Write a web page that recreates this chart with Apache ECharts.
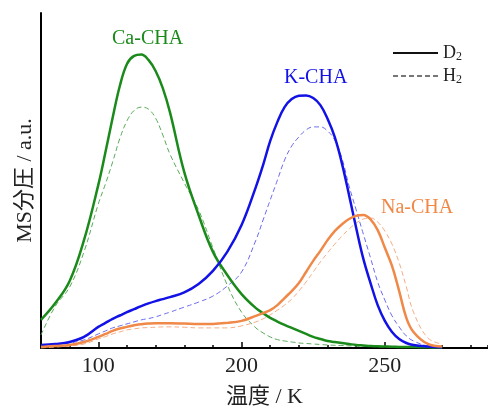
<!DOCTYPE html>
<html>
<head>
<meta charset="utf-8">
<script src="https://cdn.jsdelivr.net/npm/echarts@6/dist/echarts.min.js"></script>
<style>html,body{margin:0;padding:0;background:#fff}#c{width:488px;height:408px}</style>
</head>
<body>
<div id="c"></div>
<script>
// Internal x positions (axis units); the printed tick labels are given separately
const temps = [80,85,90,95,100,102.5,105,107.5,110,112.5,115,117.5,120,122.5,125,130,135,140,145,150,155,
  157.5,160,162.5,165,167.5,170,172.5,175,177.5,180,182.5,185,187.5,190,192.5,195,197.5,200,202.5,205,207.5,210,215,220];
const tickValues = [100,150,200];
const tickLabels = ['100','200','250'];

const caD2 = [8.4,13.4,20.0,32.2,48.7, 58.5,68.7,78.2,84.8,87.2,87.6,86.0,82.7,77.6,70.4, 52.5,39.7,28.7,21.8,16.1,11.9,
  10.4,9.0,7.9,6.9,6.0,5.1,4.2,3.3,2.7,2.1,1.8,1.5,1.2,0.9,0.75,0.6,0.5,0.45,0.4,0.3,0.3,0.3, 0.2,0.15];
const caH2 = [3.9,12.5,18.2,28.7,43.0, 49.0,55.5,62.5,67.8,70.9,71.9,71.3,68.6,63.6,57.9, 49.3,41.2,29.9,18.8,10.7,6.0,
  4.5,3.3,2.5,2.1,1.8,1.5,1.35,1.2,1.05,0.9,0.8,0.75,0.65,0.6,0.55,0.5,0.4,0.35,0.3,0.3,0.25,0.2, 0.2,0.15];
const kD2  = [0.9,1.2,1.8,3.3,6.3, 7.5,8.7,9.7,10.7,11.6,12.5,13.3,14.0,14.6,15.2, 16.6,19.1,23.0,28.7,36.7,48.1,
  54.6,61.8,67.5,71.9,74.3,75.3,75.4,74.6,72.5,68.4,63.0,55.2,45.7,35.8,26.6,19.4,12.8,8.1,4.8,2.7,1.5,0.9, 0.45,0.2];
const kH2  = [0.3,0.9,1.5,2.4,4.2, 5.1,6.0,6.6,7.2,7.8,8.4,8.8,9.3,10.0,10.7, 12.2,13.7,15.5,18.5,22.7,32.2,
  38.2,44.2,50.1,56.1,60.3,63.0,65.1,66.0,66.0,64.8,62.1,56.7,48.4,41.2,34.0,26.9,19.7,14.3,9.6,6.3,3.6,2.1, 0.6,0.25];
const naD2 = [0.3,0.6,0.9,1.8,3.3, 4.2,5.1,5.8,6.3,6.8,7.1,7.3,7.4,7.4,7.4, 7.3,7.2,7.2,7.5,8.1,9.6,
  10.4,11.3,12.8,14.9,17.0,19.4,22.7,26.0,29.0,32.2,34.9,36.9,38.5,39.5,39.7,38.4,35.2,29.9,24.5,17.0,9.0,4.8, 1.2,0.45];
const naH2 = [0.0,0.3,0.6,1.2,2.7, 3.4,4.2,4.8,5.4,5.7,6.0,6.1,6.2,6.3,6.3, 6.2,6.0,6.0,6.0,6.6,7.8,
  8.7,9.9,11.3,12.8,14.6,17.0,19.7,22.7,25.7,28.4,31.0,33.4,35.5,37.3,38.5,38.8,37.6,34.9,31.0,25.4,18.2,10.7, 3.0,1.2];

const seriesNames = ['Ca-CHA','K-CHA','Na-CHA'];
const legendNames = ['D2','H2'];

const serif = '"Liberation Serif","Noto Sans CJK JP",serif';
const pair = arr => temps.map((t,i)=>[t, arr[i]]);

function solid(name, data, color){
  return {name, type:'line', data:pair(data), smooth:0.4, showSymbol:false, symbol:'none',
    lineStyle:{color, width:2.5}, itemStyle:{color}, z:3};
}
function dashed(name, data, color){
  return {name, type:'line', data:pair(data), smooth:0.4, showSymbol:false, symbol:'none',
    lineStyle:{color, width:1, type:[5,3]}, itemStyle:{color}, z:2};
}

const chart = echarts.init(document.getElementById('c'));
chart.setOption({
  animation:false,
  backgroundColor:'#fff',
  grid:{left:41, right:0, top:13, bottom:60, outerBoundsMode:'none', containLabel:false},
  xAxis:[{
    type:'value', min:80, max:236, interval:10,
    name:'温度 / K', nameLocation:'middle', nameGap:38,
    nameTextStyle:{fontFamily:serif, fontSize:22, color:'#222'},
    axisLine:{lineStyle:{color:'#000', width:2}},
    axisTick:{inside:true, length:3, lineStyle:{color:'#000', width:1.5}},
    axisLabel:{interval:0, margin:7, fontFamily:serif, fontSize:22, color:'#222',
      formatter: v => { const i = tickValues.indexOf(v); return i >= 0 ? tickLabels[i] : ''; }},
    splitLine:{show:false}
  },{
    type:'value', min:80, max:236, position:'bottom',
    axisLine:{show:false},
    axisTick:{inside:true, length:6, customValues:tickValues, lineStyle:{color:'#000', width:1.5}},
    axisLabel:{show:false},
    splitLine:{show:false}
  }],
  yAxis:{
    type:'value', min:0, max:100,
    name:'MS分圧 / a.u.', nameLocation:'middle', nameGap:5,
    nameTextStyle:{fontFamily:serif, fontSize:22, color:'#222'},
    axisLine:{show:true, lineStyle:{color:'#000', width:2}},
    axisTick:{show:false}, axisLabel:{show:false}, splitLine:{show:false}
  },
  legend:{
    orient:'vertical', left:392, top:43, itemWidth:45, itemHeight:10, itemGap:3,
    data:legendNames,
    formatter: n => n.charAt(0) + '{s|' + n.slice(1) + '}',
    textStyle:{fontFamily:serif, fontSize:18, color:'#222', lineHeight:20,
      rich:{s:{fontFamily:serif, fontSize:12, lineHeight:20, verticalAlign:'bottom', padding:[6,0,0,0]}}},
    padding:0, itemStyle:{opacity:0}
  },
  series:[
    {name:'D2', type:'line', data:[], symbol:'none', lineStyle:{color:'#111', width:2}, itemStyle:{color:'#111'}},
    {name:'H2', type:'line', data:[], symbol:'none', lineStyle:{color:'#777', width:1, type:[5,3]}, itemStyle:{color:'#777'}},
    dashed(seriesNames[0]+' H2', caH2, '#5aab5a'),
    dashed(seriesNames[1]+' H2', kH2, '#6b6bef'),
    dashed(seriesNames[2]+' H2', naH2, '#f4ad85'),
    solid(seriesNames[0]+' D2', caD2, '#1a8a1a'),
    solid(seriesNames[1]+' D2', kD2, '#1212e6'),
    solid(seriesNames[2]+' D2', naD2, '#f08848')
  ],
  graphic:[
    {type:'text', left:112, top:29, style:{text:seriesNames[0], font:'20px "Liberation Serif"', fill:'#1a8a1a'}},
    {type:'text', left:284, top:68, style:{text:seriesNames[1], font:'20px "Liberation Serif"', fill:'#1212e6'}},
    {type:'text', left:381, top:198, style:{text:seriesNames[2], font:'20px "Liberation Serif"', fill:'#f08848'}}
  ]
});
</script>
</body>
</html>
